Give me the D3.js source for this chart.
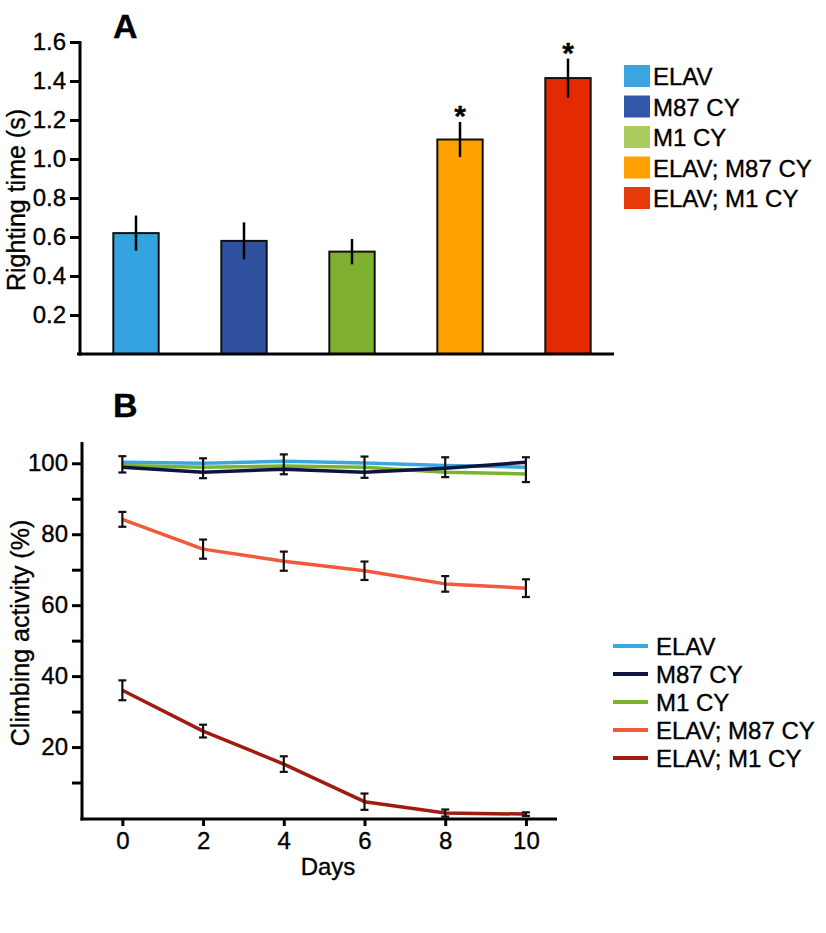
<!DOCTYPE html>
<html><head><meta charset="utf-8">
<script src="https://cdn.jsdelivr.net/npm/d3@7"></script>
<style>body{margin:0;background:#fff}svg{display:block}text{font-family:"Liberation Sans",Arial,sans-serif;fill:#000;stroke:#000;stroke-width:0.35px}</style>
</head><body><svg id="c" width="826" height="933"></svg>
<script>
// ---- Panel A data ----
const groups = ["ELAV", "M87 CY", "M1 CY", "ELAV; M87 CY", "ELAV; M1 CY"];
const rightingTime = [0.62, 0.58, 0.525, 1.10, 1.415];
const rightingErr = [0.09, 0.095, 0.065, 0.09, 0.10];
const significant = [false, false, false, true, true];
const barColors = ["#35A3E0", "#3050A0", "#80B030", "#FFA200", "#E32A00"];
const legendAColors = ["#3BA5E0", "#3256A8", "#A9CB5F", "#FFA000", "#E63A0A"];
const yTicksA = [0.2, 0.4, 0.6, 0.8, 1.0, 1.2, 1.4, 1.6];

// ---- Panel B data ----
const days = [0, 2, 4, 6, 8, 10];
const climbELAV = [100.3, 100, 100.6, 100.1, 99.4, 98.9];
const climbM87 = [98.9, 97.5, 98.3, 97.5, 98.6, 100.3];
const climbM1 = [99.4, 98.9, 99.2, 98.9, 97.5, 97.0];
const climbElavM87 = [84.2, 75.8, 72.4, 69.7, 66.0, 64.8];
const climbElavM1 = [36.0, 24.5, 15.2, 4.6, 1.4, 1.1];
const errTop = [2.3, 2.8, 2.8, 3.0, 2.8, 3.5];
const errTopCenter = [99.7, 98.6, 99.7, 98.9, 98.9, 98.2];
const errElavM87 = [2.1, 2.7, 2.7, 2.6, 2.2, 2.5];
const errElavM1 = [2.8, 1.8, 2.2, 2.3, 1.0, 0.5];
const lineColors = ["#3AA8E0", "#0E1440", "#7AB42E", "#F2593A", "#A01C10"];
const yTicksB = [10, 20, 30, 40, 50, 60, 70, 80, 90, 100];
const yLabelsB = [20, 40, 60, 80, 100];

const svg = d3.select("#c");

// ================= Panel A =================
const gA = svg.append("g");
const yA = d3.scaleLinear().domain([0, 1.6]).range([354, 42]);
const xA = d3.scaleBand().domain(groups).range([82, 622]).paddingInner(0.58).paddingOuter(0.29);

gA.append("text").attr("x", 113).attr("y", 38).attr("font-size", 34).attr("font-weight", "bold").text("A");

gA.selectAll("rect.bar").data(groups).join("rect")
  .attr("x", d => xA(d)).attr("width", xA.bandwidth())
  .attr("y", (d, i) => yA(rightingTime[i])).attr("height", (d, i) => yA(0) - yA(rightingTime[i]))
  .attr("fill", (d, i) => barColors[i]).attr("stroke", "#111").attr("stroke-width", 2);
gA.selectAll("line.err").data(groups).join("line")
  .attr("x1", d => xA(d) + xA.bandwidth() / 2).attr("x2", d => xA(d) + xA.bandwidth() / 2)
  .attr("y1", (d, i) => yA(rightingTime[i] + rightingErr[i])).attr("y2", (d, i) => yA(rightingTime[i] - rightingErr[i]))
  .attr("stroke", "#000").attr("stroke-width", 2.5);
gA.selectAll("text.star").data(groups.filter((d, i) => significant[i])).join("text")
  .attr("x", d => xA(d) + xA.bandwidth() / 2)
  .attr("y", d => { const i = groups.indexOf(d); return yA(rightingTime[i] + rightingErr[i]) + 4; })
  .attr("text-anchor", "middle").attr("font-size", 30).attr("font-weight", "bold").text("*");

const axA = d3.axisLeft(yA).tickValues(yTicksA).tickFormat(d3.format(".1f")).tickSize(10).tickPadding(4);
const yAxisA = gA.append("g").attr("transform", "translate(80,0)").call(axA);
yAxisA.select(".domain").remove();
yAxisA.selectAll(".tick line").attr("stroke", "#000").attr("stroke-width", 3);
yAxisA.selectAll(".tick text").attr("font-size", 24).attr("font-family", "Liberation Sans, Arial, sans-serif").attr("fill", "#000");
gA.append("line").attr("x1", 80).attr("x2", 80).attr("y1", yA(1.6) - 1).attr("y2", yA(0) + 1.5).attr("stroke", "#000").attr("stroke-width", 3);
gA.append("line").attr("x1", 77).attr("x2", 614).attr("y1", yA(0)).attr("y2", yA(0)).attr("stroke", "#000").attr("stroke-width", 3);

gA.append("text").attr("transform", `translate(25,${(yA(0) + yA(1.6)) / 2 + 2}) rotate(-90)`)
  .attr("text-anchor", "middle").attr("font-size", 25).text("Righting time (s)");

const legA = gA.append("g");
groups.forEach((g, i) => {
  const y0 = 65 + i * 30.5;
  legA.append("rect").attr("x", 624).attr("y", y0).attr("width", 26).attr("height", 22).attr("fill", legendAColors[i]);
  legA.append("text").attr("x", 653).attr("y", y0 + 20).attr("font-size", 24).text(g);
});

// ================= Panel B =================
const gB = svg.append("g");
const yB = d3.scaleLinear().domain([0, 106]).range([818, 442]);
const xB = d3.scaleLinear().domain([-1, 10.77]).range([82, 557]);

gB.append("text").attr("x", 113).attr("y", 417).attr("font-size", 34).attr("font-weight", "bold").text("B");

const series = [
  { name: "ELAV", values: climbELAV, color: lineColors[0] },
  { name: "M1 CY", values: climbM1, color: lineColors[2] },
  { name: "M87 CY", values: climbM87, color: lineColors[1] },
  { name: "ELAV; M87 CY", values: climbElavM87, color: lineColors[3] },
  { name: "ELAV; M1 CY", values: climbElavM1, color: lineColors[4] }
];
const line = d3.line().x((d, i) => xB(days[i])).y(d => yB(d));
gB.selectAll("path.series").data(series).join("path")
  .attr("d", s => line(s.values)).attr("fill", "none").attr("stroke", s => s.color)
  .attr("stroke-width", 3.5).attr("stroke-linejoin", "round");

const errSets = [
  { c: errTopCenter, e: errTop },
  { c: climbElavM87, e: errElavM87 },
  { c: climbElavM1, e: errElavM1 }
];
const cap = 4;
errSets.forEach(set => {
  days.forEach((d, i) => {
    const x = xB(d), y1 = yB(set.c[i] + set.e[i]), y2 = yB(set.c[i] - set.e[i]);
    gB.append("line").attr("x1", x).attr("x2", x).attr("y1", y1).attr("y2", y2).attr("stroke", "#111").attr("stroke-width", 2.2);
    gB.append("line").attr("x1", x - cap).attr("x2", x + cap).attr("y1", y1).attr("y2", y1).attr("stroke", "#111").attr("stroke-width", 2.2);
    gB.append("line").attr("x1", x - cap).attr("x2", x + cap).attr("y1", y2).attr("y2", y2).attr("stroke", "#111").attr("stroke-width", 2.2);
  });
});

const axBy = d3.axisLeft(yB).tickValues(yTicksB).tickFormat(d => yLabelsB.includes(d) ? d : "").tickSize(10).tickPadding(4);
const yAxisB = gB.append("g").attr("transform", "translate(82,0)").call(axBy);
yAxisB.select(".domain").remove();
yAxisB.selectAll(".tick line").attr("stroke", "#000").attr("stroke-width", 3);
yAxisB.selectAll(".tick text").attr("font-size", 24).attr("font-family", "Liberation Sans, Arial, sans-serif").attr("fill", "#000");
const axBx = d3.axisBottom(xB).tickValues(days).tickSize(7).tickPadding(6);
const xAxisB = gB.append("g").attr("transform", "translate(0,819)").call(axBx);
xAxisB.select(".domain").remove();
xAxisB.selectAll(".tick line").attr("stroke", "#000").attr("stroke-width", 3);
xAxisB.selectAll(".tick text").attr("font-size", 24).attr("font-family", "Liberation Sans, Arial, sans-serif").attr("fill", "#000");
gB.append("line").attr("x1", 82).attr("x2", 82).attr("y1", 442).attr("y2", 820.5).attr("stroke", "#000").attr("stroke-width", 3);
gB.append("line").attr("x1", 80.5).attr("x2", 557).attr("y1", 819).attr("y2", 819).attr("stroke", "#000").attr("stroke-width", 3);

gB.append("text").attr("x", 328).attr("y", 875).attr("text-anchor", "middle").attr("font-size", 24).text("Days");
gB.append("text").attr("transform", `translate(29,633) rotate(-90)`)
  .attr("text-anchor", "middle").attr("font-size", 25).text("Climbing activity (%)");

[0, 1, 2, 3, 4].forEach((k, i) => {
  const yc = 646 + i * 28;
  gB.append("line").attr("x1", 613).attr("x2", 648).attr("y1", yc).attr("y2", yc).attr("stroke", lineColors[k]).attr("stroke-width", 4);
  gB.append("text").attr("x", 656).attr("y", yc + 9).attr("font-size", 24).text(groups[k]);
});
</script></body></html>
